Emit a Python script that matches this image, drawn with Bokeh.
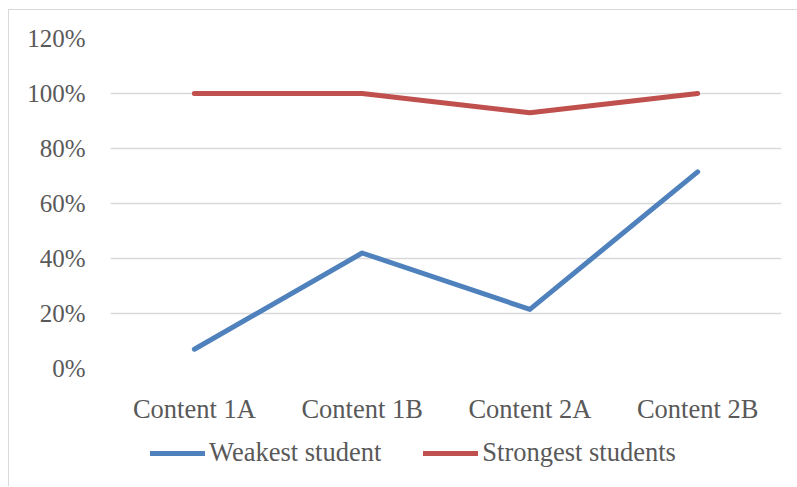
from bokeh.plotting import figure
from bokeh.layouts import column
from bokeh.models import Legend, LegendItem, NumeralTickFormatter, FixedTicker, Range1d
from bokeh.embed import file_html
from bokeh.resources import INLINE

categories = ["Content 1A", "Content 1B", "Content 2A", "Content 2B"]
weakest = [0.07, 0.42, 0.215, 0.715]
strongest = [1.0, 1.0, 0.93, 1.0]
y_ticks = [0, 0.2, 0.4, 0.6, 0.8, 1.0, 1.2]
series_names = ["Weakest student", "Strongest students"]
colors = ["#4F81BD", "#C0504D"]

FONT = "Liberation Serif"
TXT = "#595959"

p = figure(x_range=categories, y_range=Range1d(0, 1.2), width=788, height=416,
           output_backend="svg", toolbar_location=None,
           min_border_left=101, min_border_right=16, min_border_top=28, min_border_bottom=58)
p.outline_line_color = None
p.xgrid.grid_line_color = None
p.ygrid.grid_line_color = "#d9d9d9"
p.ygrid.grid_line_width = 1.5

p.yaxis.ticker = FixedTicker(ticks=y_ticks)
p.yaxis.formatter = NumeralTickFormatter(format="0%")
for ax in (p.xaxis, p.yaxis):
    ax.axis_line_color = None
    ax.major_tick_line_color = None
    ax.minor_tick_line_color = None
    ax.major_tick_out = 0
    ax.major_tick_in = 0
    ax.major_label_text_font = FONT
    ax.major_label_text_color = TXT
p.yaxis.major_label_text_font_size = "25px"
p.xaxis.major_label_text_font_size = "26.5px"
p.yaxis.major_label_standoff = 25
p.xaxis.major_label_standoff = 25

p.line(categories, weakest, line_color=colors[0], line_width=5, line_cap="round", line_join="round")
p.line(categories, strongest, line_color=colors[1], line_width=5, line_cap="round", line_join="round")

# legend strip below the chart (its frame is aligned with the chart's frame)
nan = float("nan")
lf = figure(width=788, height=60, x_range=Range1d(0, 1), y_range=Range1d(0, 1),
            output_backend="svg", toolbar_location=None,
            min_border_left=0, min_border_right=0, min_border_top=0, min_border_bottom=0)
lf.axis.visible = False
lf.grid.grid_line_color = None
lf.outline_line_color = None
lr1 = lf.line([nan], [nan], line_color=colors[0], line_width=5, line_cap="round")
lr2 = lf.line([nan], [nan], line_color=colors[1], line_width=5, line_cap="round")
legend = Legend(items=[LegendItem(label=series_names[0], renderers=[lr1]),
                       LegendItem(label=series_names[1], renderers=[lr2])],
                orientation="horizontal", location=(40, 18))
legend.label_text_font = FONT
legend.label_text_font_size = "26.5px"
legend.label_text_color = TXT
legend.glyph_width = 55
legend.label_standoff = 4
legend.spacing = 42
legend.padding = 0
legend.margin = 0
legend.border_line_color = None
legend.background_fill_alpha = 0
lf.add_layout(legend, "center")

layout = column(p, lf, spacing=0,
                styles={"margin-left": "8px", "margin-top": "9px",
                        "border-left": "1px solid #d9d9d9", "border-top": "1px solid #d9d9d9"})

open("out.html", "w").write(file_html(layout, INLINE))
